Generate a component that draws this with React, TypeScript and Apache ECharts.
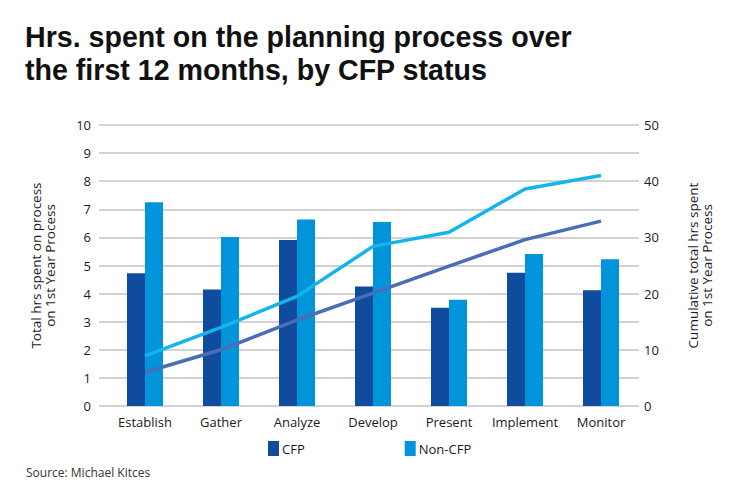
import React, { useEffect, useRef } from "react";
import * as echarts from "echarts";

const categories = ["Establish", "Gather", "Analyze", "Develop", "Present", "Implement", "Monitor"];
const cfpHours = [4.72, 4.15, 5.91, 4.25, 3.5, 4.74, 4.12];
const nonCfpHours = [7.25, 6.01, 6.64, 6.55, 3.78, 5.41, 5.22];
const cfpCumulative = [6.0, 10.0, 15.3, 20.1, 24.9, 29.6, 32.9];
const nonCfpCumulative = [8.9, 14.0, 19.5, 28.4, 30.9, 38.6, 41.0];
const leftTicks = [0, 1, 2, 3, 4, 5, 6, 7, 8, 9, 10];
const rightTicks = [0, 10, 20, 30, 40, 50];

const FONT = "Open Sans";
const TITLE_FONT = "Liberation Sans";
const TEXT = "#1a1a1a";
const GRID = "#c4c4c4";

export default function App() {
  const ref = useRef<HTMLDivElement>(null);
  useEffect(() => {
    document.body.style.margin = "0";
    if (!ref.current) return;
    const chart = echarts.init(ref.current, undefined, { renderer: "svg" });
    chart.setOption({
      animation: false,
      backgroundColor: "#ffffff",
      textStyle: { fontFamily: FONT, color: TEXT },
      title: [
        {
          text: "Hrs. spent on the planning process over\nthe first 12 months, by CFP status",
          left: 25,
          top: 20,
          padding: 0,
          textStyle: { fontFamily: TITLE_FONT, fontSize: 28.6, fontWeight: "bold", lineHeight: 33, color: "#111" },
        },
        {
          text: "Source: Michael Kitces",
          left: 26,
          top: 466,
          padding: 0,
          textStyle: { fontFamily: FONT, fontSize: 12, fontWeight: "normal", color: "#333" },
        },
      ],
      legend: {
        data: ["CFP", "Non-CFP"],
        left: 268,
        top: 441,
        padding: 0,
        itemWidth: 11,
        itemHeight: 15,
        itemGap: 100,
        icon: "rect",
        textStyle: { fontFamily: FONT, fontSize: 13, color: TEXT, padding: [0, 0, 0, -2] },
      },
      grid: { left: 107, right: 101, top: 125, bottom: 96 },
      xAxis: {
        type: "category",
        data: categories,
        axisLine: { show: false },
        axisTick: { show: false },
        axisLabel: { fontFamily: FONT, fontSize: 13, color: TEXT, margin: 9, interval: 0 },
      },
      yAxis: [
        {
          type: "value",
          min: leftTicks[0],
          max: leftTicks[leftTicks.length - 1],
          interval: 1,
          name: "Total hrs spent on process\non 1st Year Process",
          nameLocation: "middle",
          nameRotate: 90,
          nameGap: 50,
          nameTextStyle: { fontFamily: FONT, fontSize: 13.5, color: TEXT, lineHeight: 14 },
          axisLine: { show: false },
          axisTick: { show: true, length: 8, lineStyle: { color: GRID, width: 1.5 } },
          splitLine: { lineStyle: { color: GRID, width: 1.5 } },
          axisLabel: { fontFamily: FONT, fontSize: 13, color: TEXT, margin: 16 },
        },
        {
          type: "value",
          min: rightTicks[0],
          max: rightTicks[rightTicks.length - 1],
          interval: 10,
          name: "Cumulative total hrs spent\non 1st Year Process",
          nameLocation: "middle",
          nameRotate: 90,
          nameGap: 47,
          nameTextStyle: { fontFamily: FONT, fontSize: 13.5, color: TEXT, lineHeight: 14 },
          axisLine: { show: false },
          axisTick: { show: false },
          splitLine: { show: false },
          axisLabel: { fontFamily: FONT, fontSize: 13, color: TEXT, margin: 5 },
        },
      ],
      series: [
        {
          name: "CFP",
          type: "bar",
          data: cfpHours,
          barWidth: 18,
          barGap: "0%",
          itemStyle: { color: "#0f4c9e" },
        },
        {
          name: "Non-CFP",
          type: "bar",
          data: nonCfpHours,
          barWidth: 18,
          barGap: "0%",
          itemStyle: { color: "#0095da" },
        },
        {
          name: "CFP cumulative",
          type: "line",
          yAxisIndex: 1,
          data: cfpCumulative,
          symbol: "none",
          lineStyle: { color: "#4a6db8", width: 3.5 },
        },
        {
          name: "Non-CFP cumulative",
          type: "line",
          yAxisIndex: 1,
          data: nonCfpCumulative,
          symbol: "none",
          lineStyle: { color: "#15b4ec", width: 3.5 },
        },
      ],
    });
    return () => chart.dispose();
  }, []);
  return <div ref={ref} style={{ width: 740, height: 502 }} />;
}
